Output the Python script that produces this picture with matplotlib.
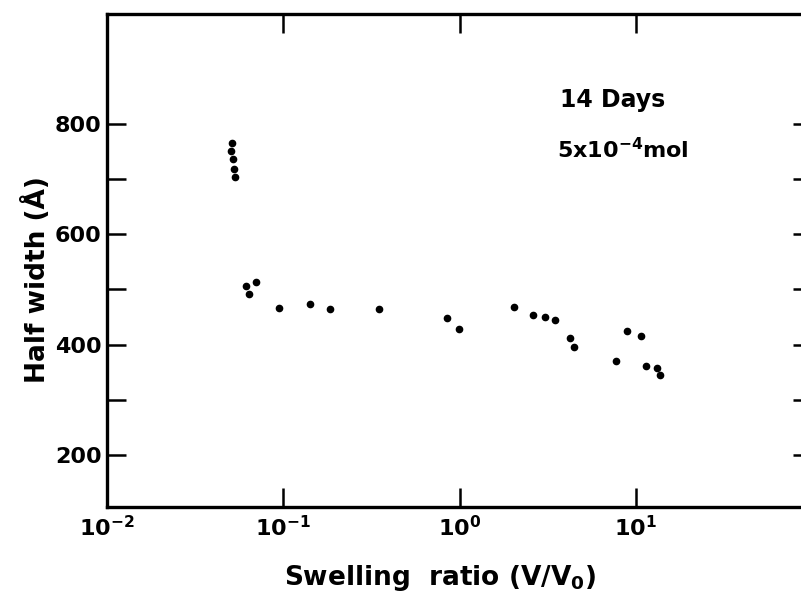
import matplotlib
matplotlib.use("Agg")
import matplotlib.pyplot as plt
from matplotlib.ticker import NullLocator

# swelling ratio (V/V0) and half width (Angstrom)
swelling = [0.0513, 0.0505, 0.0518, 0.0527, 0.0530,
            0.0614, 0.0705, 0.0636, 0.094, 0.141, 0.184, 0.350,
            0.848, 0.99, 2.03, 2.61, 3.07, 3.48, 4.22, 4.48,
            7.73, 8.90, 10.7, 11.45, 13.2, 13.7]
half_width = [766, 751, 737, 719, 704,
              507, 514, 491, 466, 473, 465, 465,
              449, 428, 468, 454, 450, 444, 412, 395,
              370, 425, 415, 361, 358, 344]

x_ticks = [0.01, 0.1, 1, 10]
y_ticks = [200, 300, 400, 500, 600, 700, 800]
y_labels = ["200", "", "400", "", "600", "", "800"]

plt.rcParams['font.family'] = ['DejaVu Sans']
plt.rcParams['font.weight'] = 'bold'
plt.rcParams['mathtext.default'] = 'bf'

fig = plt.figure(figsize=(8.01, 5.95), dpi=100)
# right spine falls just outside the picture, as in the original scan
ax = fig.add_axes([107 / 801, 88 / 595, 705 / 801, 493 / 595])

ax.plot(swelling, half_width, 'o', color='black', markersize=4.5, linestyle='none')

ax.set_xscale('log')
ax.set_xlim(0.01, 100)
ax.set_ylim(105, 1000)

ax.set_xticks(x_ticks)
ax.xaxis.set_minor_locator(NullLocator())
ax.set_yticks(y_ticks)
ax.set_yticklabels(y_labels)

for side in ['left', 'bottom', 'top', 'right']:
    ax.spines[side].set_linewidth(2.4)

ax.tick_params(axis='both', which='major', direction='in', length=14, width=1.8,
               top=True, right=True, labelsize=16, pad=6, colors='black')
ax.tick_params(axis='y', pad=4)
for lbl in ax.get_xticklabels() + ax.get_yticklabels():
    lbl.set_fontweight('bold')

fig.text(37 / 801, 1 - 280 / 595, 'Half width (Å)', rotation=90, ha='center', va='center',
         fontsize=19, fontweight='bold')
fig.text(440 / 801, 1 - 578 / 595, r'Swelling  ratio (V/V$_0$)', ha='center', va='center',
         fontsize=19, fontweight='bold')

ax.text(560 / 801, 1 - 100 / 595, '14 Days', transform=fig.transFigure, fontsize=17,
        va='center', fontweight='bold')
ax.text(557 / 801, 1 - 150 / 595, r'5x10$^{-4}$mol', transform=fig.transFigure, fontsize=16,
        va='center', fontweight='bold')

fig.savefig('out.png', dpi=100)
